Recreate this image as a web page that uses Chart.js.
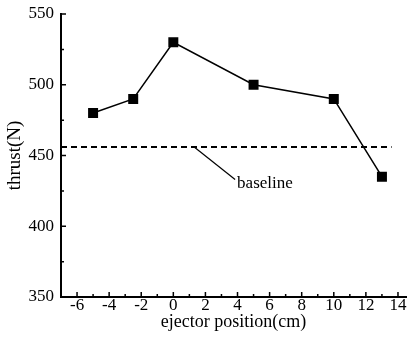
<!DOCTYPE html>
<html>
<head>
<meta charset="utf-8">
<script src="https://cdn.jsdelivr.net/npm/chart.js@4/dist/chart.umd.min.js"></script>
<style>
  html, body { margin: 0; padding: 0; background: #fff; }
  #wrap { width: 414px; height: 341px; }
</style>
</head>
<body>
<div id="wrap"><canvas id="c"></canvas></div>
<script>
// data
const positions = [-5, -2.5, 0, 5, 10, 13];
const thrust = [480, 490, 530, 500, 490, 435];
const baselineX = [-7, 13.6];
const baselineY = [456, 456];
const xTicks = [-6, -4, -2, 0, 2, 4, 6, 8, 10, 12, 14];
const yTicks = [350, 400, 450, 500, 550];
const xMinor = [-7, -5, -3, -1, 1, 3, 5, 7, 9, 11, 13];
const yMinor = [375, 425, 475, 525];
// annotation: leader line from (x,y) to (x,y), label position
const noteFrom = [1.3, 456];
const noteTo = [3.85, 433];
const noteText = 'baseline';

const FONT = '"Liberation Serif", "DejaVu Serif", serif';

// inward tick marks (major + minor) drawn from the scales
const tickMarks = {
    id: 'tickMarks',
    afterDraw(chart) {
        const { ctx, chartArea: a, scales: { x, y } } = chart;
        ctx.save();
        ctx.strokeStyle = '#000';
        ctx.lineWidth = 1.5;
        ctx.beginPath();
        xTicks.forEach(v => { const px = x.getPixelForValue(v); ctx.moveTo(px, a.bottom); ctx.lineTo(px, a.bottom - 5); });
        xMinor.forEach(v => { const px = x.getPixelForValue(v); ctx.moveTo(px, a.bottom); ctx.lineTo(px, a.bottom - 3); });
        yTicks.forEach(v => { const py = y.getPixelForValue(v); ctx.moveTo(a.left, py); ctx.lineTo(a.left + 5, py); });
        yMinor.forEach(v => { const py = y.getPixelForValue(v); ctx.moveTo(a.left, py); ctx.lineTo(a.left + 3, py); });
        ctx.stroke();

        // baseline label + leader
        const x0 = x.getPixelForValue(noteFrom[0]), y0 = y.getPixelForValue(noteFrom[1]);
        const x1 = x.getPixelForValue(noteTo[0]), y1 = y.getPixelForValue(noteTo[1]);
        ctx.lineWidth = 1.2;
        ctx.beginPath();
        ctx.moveTo(x0, y0);
        ctx.lineTo(x1, y1);
        ctx.stroke();
        ctx.fillStyle = '#000';
        ctx.font = '17px ' + FONT;
        ctx.textBaseline = 'middle';
        ctx.fillText(noteText, x1 + 2, y1 + 4);
        ctx.restore();
    }
};

new Chart(document.getElementById('c'), {
    type: 'scatter',
    data: {
        datasets: [
            {
                data: positions.map((p, i) => ({ x: p, y: thrust[i] })),
                showLine: true,
                borderColor: '#000',
                backgroundColor: '#000',
                borderWidth: 1.5,
                pointStyle: 'rect',
                pointRadius: 6,
                pointHoverRadius: 6
            },
            {
                data: baselineX.map((p, i) => ({ x: p, y: baselineY[i] })),
                showLine: true,
                borderColor: '#000',
                borderWidth: 2,
                borderDash: [6, 4],
                pointRadius: 0
            }
        ]
    },
    options: {
        responsive: true,
        maintainAspectRatio: false,
        animation: false,
        layout: { padding: { top: 14, right: 8, left: 0, bottom: 0 } },
        plugins: { legend: { display: false }, tooltip: { enabled: false } },
        scales: {
            x: {
                type: 'linear',
                min: -7,
                max: 14.5,
                afterBuildTicks: s => { s.ticks = xTicks.map(v => ({ value: v })); },
                afterFit: s => { s.height = 44; s.paddingLeft = 0; s.paddingRight = 0; },
                grid: { display: false, drawTicks: false },
                border: { display: true, color: '#000', width: 2 },
                ticks: { color: '#000', padding: -2, font: { family: FONT, size: 17 }, maxRotation: 0 },
                title: { display: true, text: 'ejector position(cm)', color: '#000', font: { family: FONT, size: 18 }, padding: { top: 0, bottom: 8 } }
            },
            y: {
                min: 350,
                max: 550,
                afterBuildTicks: s => { s.ticks = yTicks.map(v => ({ value: v })); },
                afterFit: s => { s.width = 61; s.paddingTop = 0; s.paddingBottom = 0; },
                grid: { display: false, drawTicks: false },
                border: { display: true, color: '#000', width: 2 },
                ticks: { color: '#000', padding: 7, font: { family: FONT, size: 17 } },
                title: { display: true, text: 'thrust(N)', color: '#000', font: { family: FONT, size: 19 }, padding: { bottom: 2 } }
            }
        }
    },
    plugins: [tickMarks]
});
</script>
</body>
</html>
